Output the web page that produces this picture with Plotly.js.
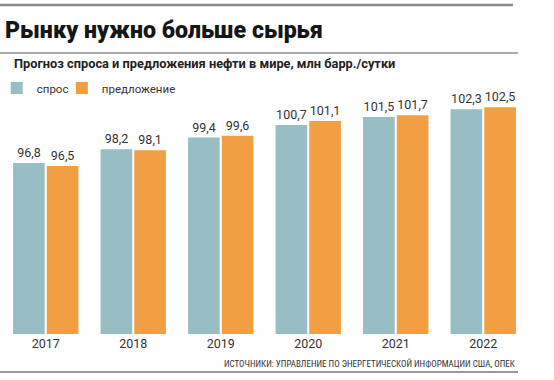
<!DOCTYPE html>
<html>
<head>
<meta charset="utf-8">
<script src="https://cdn.plot.ly/plotly-3.0.1.min.js"></script>
<style>html,body{margin:0;padding:0;background:#fff;}#chart{width:554px;height:380px;}</style>
</head>
<body>
<div id="chart"></div>
<script>
const years = ['2017', '2018', '2019', '2020', '2021', '2022'];
const demand = [96.8, 98.2, 99.4, 100.7, 101.5, 102.3];
const supply = [96.5, 98.1, 99.6, 101.1, 101.7, 102.5];
const seriesNames = ['спрос', 'предложение'];
const titleText = 'Рынку нужно больше сырья';
const subtitleText = 'Прогноз спроса и предложения нефти в мире, млн барр./сутки';
const sourceText = 'ИСТОЧНИКИ: УПРАВЛЕНИЕ ПО ЭНЕРГЕТИЧЕСКОЙ ИНФОРМАЦИИ США, ОПЕК';

const fmt = v => v.toFixed(1).replace('.', ',');
const labelFont = {family: 'Roboto, sans-serif', size: 12.5, color: '#333'};
const legendFont = {family: 'Roboto, sans-serif', size: 11.5, color: '#333'};

const traces = [
  {type: 'bar', name: seriesNames[0], x: years, y: demand, text: demand.map(fmt),
   textposition: 'outside', textfont: labelFont, cliponaxis: false, hoverinfo: 'skip',
   legend: 'legend', marker: {color: '#97bec4', line: {width: 0}}},
  {type: 'bar', name: seriesNames[1], x: years, y: supply, text: supply.map(fmt),
   textposition: 'outside', textfont: labelFont, cliponaxis: false, hoverinfo: 'skip',
   legend: 'legend2', marker: {color: '#f29e42', line: {width: 0}}}
];

const layout = {
  width: 554, height: 380,
  margin: {l: 2, r: 27, t: 100, b: 46, autoexpand: false},
  paper_bgcolor: '#fff', plot_bgcolor: '#fff',
  barmode: 'group', bargap: 0.23, bargroupgap: 0.06,
  title: {text: titleText, x: 5 / 554, xref: 'container', xanchor: 'left',
          y: 1 - 30 / 380, yref: 'container', yanchor: 'middle',
          font: {family: 'Roboto, sans-serif', size: 23.2, weight: 900, color: '#161616'}},
  xaxis: {type: 'category', showgrid: false, zeroline: false, showline: false, ticks: '',
          automargin: false,
          tickfont: {family: 'Roboto, sans-serif', size: 12.5, color: '#333'}},
  yaxis: {visible: false, range: [79.3, 103.25], fixedrange: true, automargin: false},
  showlegend: true,
  legend: {orientation: 'h', x: -0.01, xanchor: 'left', y: 1.051, yanchor: 'middle',
           font: legendFont, itemwidth: 30, bgcolor: 'rgba(0,0,0,0)'},
  legend2: {orientation: 'h', x: 0.114, xanchor: 'left', y: 1.051, yanchor: 'middle',
            font: legendFont, itemwidth: 30, bgcolor: 'rgba(0,0,0,0)'},
  annotations: [
    {text: subtitleText, xref: 'paper', yref: 'paper', x: 0.019, y: 1.156,
     xanchor: 'left', yanchor: 'middle', showarrow: false,
     font: {family: 'Roboto, sans-serif', size: 12.8, weight: 700, color: '#222'}},
    {text: sourceText, xref: 'paper', yref: 'paper', x: 0.981, y: -0.124,
     xanchor: 'right', yanchor: 'middle', showarrow: false,
     font: {family: '"Roboto Condensed", Roboto, sans-serif', size: 9, color: '#333'}}
  ],
  shapes: [
    {type: 'line', xref: 'paper', yref: 'paper', x0: -3 / 525, x1: 511 / 525, y0: (334 - 5) / 234, y1: (334 - 5) / 234,
     line: {color: '#8a8a8a', width: 2.5}},
    {type: 'line', xref: 'paper', yref: 'paper', x0: -3 / 525, x1: 516 / 525, y0: (334 - 53) / 234, y1: (334 - 53) / 234,
     line: {color: '#555', width: 1}},
    {type: 'line', xref: 'paper', yref: 'paper', x0: -3 / 525, x1: 516 / 525, y0: (334 - 372) / 234, y1: (334 - 372) / 234,
     line: {color: '#777', width: 1.5}}
  ]
};

Plotly.newPlot('chart', traces, layout, {displayModeBar: false, staticPlot: true});
</script>
</body>
</html>
